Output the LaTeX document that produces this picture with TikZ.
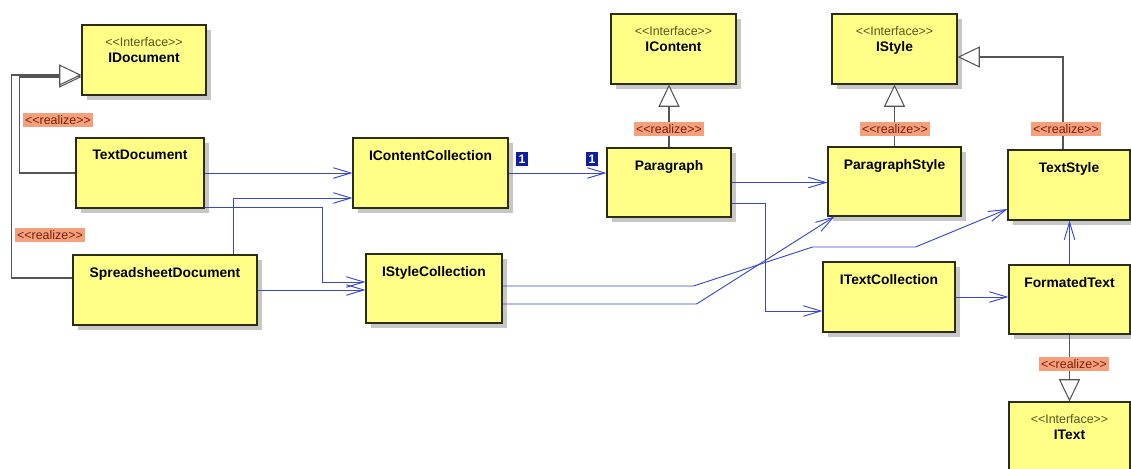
\documentclass[tikz,border=0pt]{standalone}
\usepackage{fontspec}
\setmainfont{Liberation Sans}
\usetikzlibrary{arrows.meta,calc,fit,shadows}
\definecolor{boxfill}{RGB}{255,255,136}
\definecolor{boxline}{RGB}{45,45,20}
\definecolor{assocblue}{RGB}{55,70,215}
\definecolor{realline}{RGB}{85,85,85}
\definecolor{stereofill}{RGB}{245,160,125}
\definecolor{stereotext}{RGB}{120,30,10}
\definecolor{ifacetext}{RGB}{85,85,30}
\definecolor{multblue}{RGB}{15,30,160}
\tikzset{
  cls/.style={draw=boxline, line width=0.9pt, fill=boxfill, inner sep=0pt,
    drop shadow={shadow xshift=0.15cm, shadow yshift=-0.15cm, fill=black!22, opacity=1}},
  ttl/.style={anchor=north, inner sep=0pt, yshift=-10.5pt, align=center,
    font=\fontsize{11.8}{13.8}\selectfont\bfseries},
  assoc/.style={draw=assocblue, line width=0.8pt, -{Straight Barb[length=15pt,width=9pt]}},
  realize/.style={draw=realline, line width=0.9pt, -{Triangle[fill=white,length=19pt,width=18pt]}},
  stereo/.style={fill=stereofill, text=stereotext, inner xsep=2pt, inner ysep=2.4pt, font=\fontsize{10.6}{11}\selectfont},
  mult/.style={fill=multblue, text=white, inner xsep=2pt, inner ysep=2pt, font=\fontsize{10.5}{11}\selectfont\bfseries}
}
\newcommand{\iface}[1]{{\mdseries\color{ifacetext}\fontsize{10.6}{13.8}\selectfont <{}<Interface>{}>}\\#1}
\begin{document}
\begin{tikzpicture}[x=0.03cm,y=-0.03cm]
\useasboundingbox (0,0) rectangle (1131,468);
% classes and interfaces
\node[cls, fit={(82,25) (206,95)}, label={[ttl]north:\iface{IDocument}}] (idoc) {};
\node[cls, fit={(76,138) (204,208)}, label={[ttl]north:TextDocument}] (textdoc) {};
\node[cls, fit={(73,255) (257,325)}, label={[ttl]north:SpreadsheetDocument}] (sheetdoc) {};
\node[cls, fit={(353,138) (508,208)}, label={[ttl]north:IContentCollection}] (ccoll) {};
\node[cls, fit={(366,254) (502,323)}, label={[ttl]north:IStyleCollection}] (scoll) {};
\node[cls, fit={(611,14) (736,84)}, label={[ttl]north:\iface{IContent}}] (icontent) {};
\node[cls, fit={(607,148) (731,217)}, label={[ttl]north:Paragraph}] (para) {};
\node[cls, fit={(832,14) (957,84)}, label={[ttl]north:\iface{IStyle}}] (istyle) {};
\node[cls, fit={(828,147) (961,216)}, label={[ttl]north:ParagraphStyle}] (parastyle) {};
\node[cls, fit={(1008,150) (1130,220)}, label={[ttl]north:TextStyle}] (textstyle) {};
\node[cls, fit={(823,262) (955,332)}, label={[ttl]north:ITextCollection}] (tcoll) {};
\node[cls, fit={(1009,265) (1130,334)}, label={[ttl]north:FormatedText}] (ftext) {};
\node[cls, fit={(1009,402) (1130,480)}, label={[ttl]north:\iface{IText}}] (itext) {};
% associations
\draw[assoc] (textdoc.east) -- (ccoll.west);
\draw[assoc] ($(sheetdoc.north)+(68,0)$) |- ($(ccoll.west)+(0,25)$);
\draw[assoc] ($(textdoc.east)+(0,34)$) -- ++(118,0) |- ($(scoll.west)+(0,-6.5)$);
\draw[assoc] (sheetdoc.east) -- (sheetdoc.east -| scoll.west);
\draw[assoc] (ccoll.east) -- (ccoll.east -| para.west);
\draw[assoc] (para.east) -- (para.east -| parastyle.west);
\draw[assoc] ($(para.east)+(0,21)$) -- ++(34,0) |- ($(tcoll.west)+(0,14)$);
\draw[assoc] ($(scoll.east)+(0,-2.5)$) -- ++(191,0) -- ++(119,-39) -- ++(103,0) -- ($(textstyle.west)+(0,24)$);
\draw[assoc] ($(scoll.east)+(0,15.5)$) -- ++(194,0) -- ($(parastyle.south west)+(7,0)$);
\draw[assoc] (tcoll.east) -- (tcoll.east -| ftext.west);
\draw[assoc] (ftext.north) -- (ftext.north |- textstyle.south);
% realizations
\draw[realize] (textdoc.west) -- ++(-56,0) |- ($(idoc.west)+(0,17)$);
\draw[realize] ($(sheetdoc.west)+(0,-12)$) -- ++(-61,0) |- ($(idoc.west)+(0,15)$);
\draw[realize] (para.north) -- (para.north |- icontent.south);
\draw[realize] (parastyle.north) -- (istyle.south);
\draw[realize] ($(textstyle.north)+(-6,0)$) |- ($(istyle.east)+(0,8)$);
\draw[realize] (ftext.south) -- (itext.north);
% stereotype and multiplicity labels
\node[stereo] (rz1) at (58,120) {<{}<realize>{}>};
\node[stereo] (rz2) at (50,235) {<{}<realize>{}>};
\node[stereo] (rz3) at (669,129) {<{}<realize>{}>};
\node[stereo] (rz4) at (895,129) {<{}<realize>{}>};
\node[stereo] (rz5) at (1066,129) {<{}<realize>{}>};
\node[stereo] (rz6) at (1074,364) {<{}<realize>{}>};
\node[mult] (m1) at (522,159) {1};
\node[mult] (m2) at (592,159) {1};
\end{tikzpicture}
\end{document}
